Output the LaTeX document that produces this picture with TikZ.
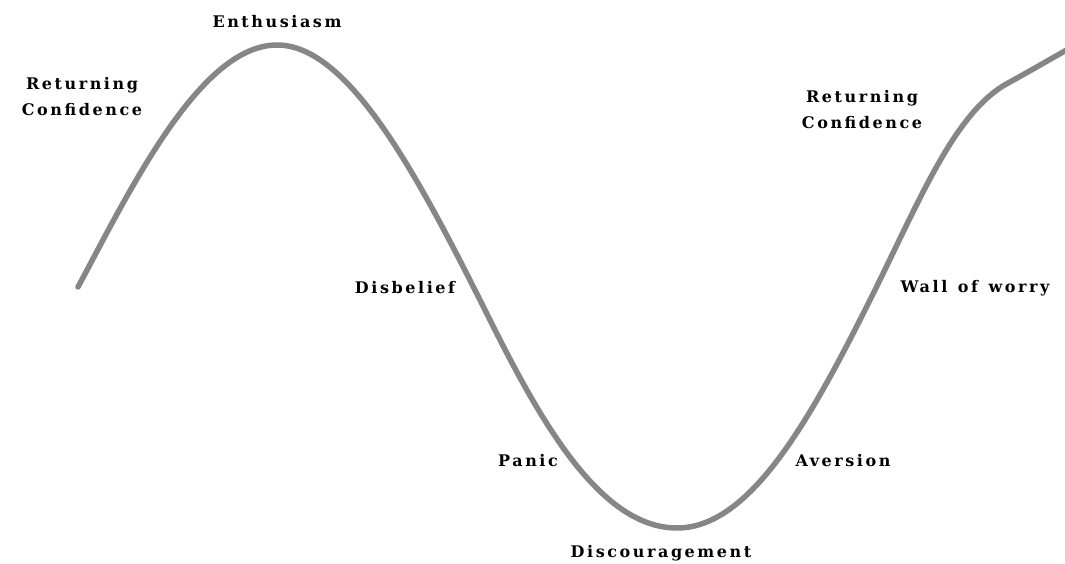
\documentclass[tikz,border=0pt]{standalone}
\usepackage{fontspec}
\setmainfont{DejaVu Serif}[LetterSpace=16, WordSpace=1.3]
\usetikzlibrary{calc}

\begin{document}
\begin{tikzpicture}[
      x=1pt, y=-1pt,
      curve/.style={
                draw=gray!95,
                line width=5.5pt,
                line cap=round,
                line join=round
                },
      phase/.style={
                inner sep=0pt,
                align=center,
                font=\fontsize{16}{26}\selectfont\bfseries
                }
]

\useasboundingbox (0,0) rectangle (1065,564);

% the market cycle
\draw[curve] (78,287) .. controls (130,190) and (200,45) .. (277,45)
                      .. controls (350,45) and (420,180) .. (490,320)
                      .. controls (540,420) and (600,528) .. (677,528)
                      .. controls (750,528) and (810,420) .. (870,300)
                      .. controls (920,200) and (955,110) .. (1010,82)
                      .. controls (1035,68) .. (1070,48);

\node[phase] (enth)  at (277,22)  {Enthusiasm};
\node[phase] (retl)  at (82,97)   {Returning\\Confidence};
\node[phase] (disb)  at (405,288) {Disbelief};
\node[phase] (panic) at (528,461) {Panic};
\node[phase] (disc)  at (661,553) {Discouragement};
\node[phase] (avers) at (843,461) {Aversion};
\node[phase] (wall)  at (975,288) {Wall of worry};
\node[phase] (retr)  at (862,110) {Returning\\Confidence};

\end{tikzpicture}
\end{document}
